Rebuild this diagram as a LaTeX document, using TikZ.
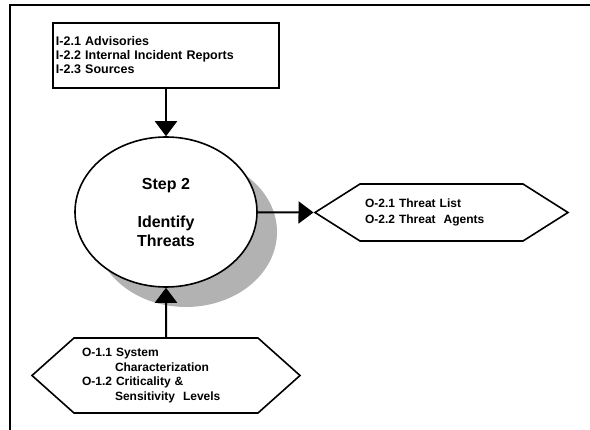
\documentclass[tikz,border=0pt]{standalone}
\usepackage{fontspec}
\setmainfont{Liberation Sans}
\usetikzlibrary{arrows.meta,shapes.geometric,shapes.symbols,shadows}

\begin{document}
\begin{tikzpicture}[x=1pt, y=-1pt, line width=1.6pt,
  inbox/.style={draw, rectangle, align=left, text width=220pt, inner xsep=3pt, minimum height=65pt,
    font=\fontsize{12.5}{14}\selectfont\bfseries},
  hexbox/.style={draw, fill=white, signal, signal to=west and east, align=left,
    font=\fontsize{12}{14.4}\selectfont\bfseries},
  stepnode/.style={draw, ellipse, fill=white, minimum width=182pt, minimum height=150pt, inner sep=0pt,
    font=\fontsize{16}{19}\selectfont\bfseries, align=center,
    drop shadow={shadow xshift=20pt, shadow yshift=-20pt, opacity=1, fill=black!30}},
  flow/.style={-{Triangle[length=15pt,width=22pt]}, line width=2pt}]

\useasboundingbox (0,0) rectangle (590,430);
\draw[line width=2pt] (590,5.5) -| (10,430);

\node[inbox] (inputs) at (166,55.5) {I-2.1 Advisories\\I-2.2 Internal Incident Reports\\I-2.3 Sources};
\node[stepnode] (step) at (166,212) {Step 2\\[19pt]Identify\\Threats};
\node[hexbox, text width=153pt, inner xsep=5pt, signal pointer angle=64.7, minimum height=57pt,
  font=\fontsize{12}{16}\selectfont\bfseries] (threats) at (441.5,212.5)
  {O-2.1 Threat List\\O-2.2 Threat\ \ Agents};
\node[hexbox, text width=168pt, inner xsep=8pt, signal pointer angle=83.5, minimum height=75pt] (chars) at (166,375.5)
  {O-1.1 System\\\hspace*{33pt}Characterization\\O-1.2 Criticality \&\\\hspace*{33pt}Sensitivity\ \ Levels};

\draw[flow] (inputs) -- (step);
\draw[flow] (step) -- (threats.west);
\draw[flow] (chars) -- (step);

\end{tikzpicture}
\end{document}
